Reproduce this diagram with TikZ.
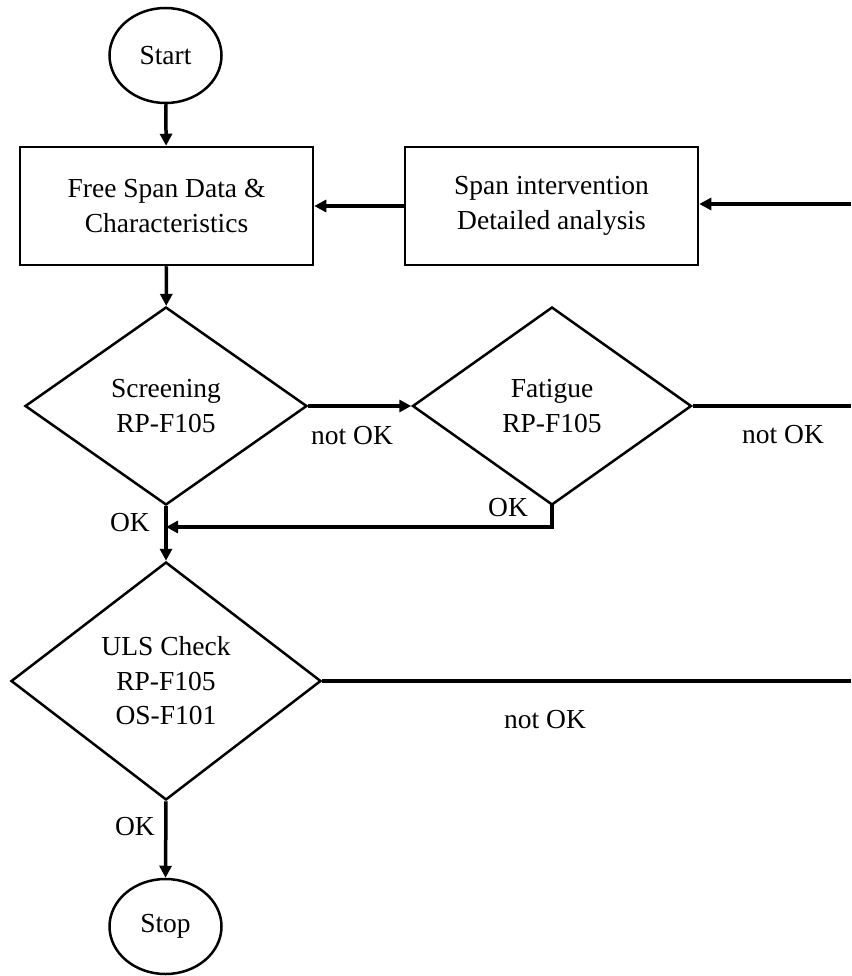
\documentclass[tikz,border=0pt]{standalone}
\usepackage{fontspec}
\setmainfont{Liberation Serif}
\usetikzlibrary{shapes.geometric,arrows.meta}
\begin{document}
\begin{tikzpicture}[x=1pt,y=-1pt,
  font=\fontsize{27.5}{34.5}\selectfont,
  term/.style={ellipse,draw,line width=2.5pt,minimum width=112pt,minimum height=95pt,inner sep=0pt},
  procbox/.style={rectangle,draw,line width=2.5pt,minimum width=293pt,minimum height=118pt,align=center,inner sep=0pt},
  decision/.style={diamond,draw,line width=2.5pt,align=center,inner sep=0pt},
  conn/.style={line width=3.5pt},
  arr/.style={conn,-{Triangle[length=12pt,width=12pt]}},
  lbl/.style={inner sep=0pt}]
\useasboundingbox (0,0) rectangle (851,976);
\node[term] (start) at (165.5,55.5) {Start};
\node[procbox] (data) at (166.5,206) {Free Span Data \&\\Characteristics};
\node[procbox] (interv) at (551.5,206) {Span intervention\\Detailed analysis};
\node[decision,minimum width=282pt,minimum height=198pt] (screen) at (166,406) {Screening\\RP-F105};
\node[decision,minimum width=279pt,minimum height=198pt] (fatigue) at (552,406) {Fatigue\\RP-F105};
\node[decision,minimum width=310pt,minimum height=238pt] (uls) at (166,681) {ULS Check\\RP-F105\\OS-F101};
\node[term] (stop) at (165.5,926.5) {Stop};
\coordinate (e1) at (851,204);
\coordinate (e2) at (851,406);
\coordinate (e3) at (851,681);
\coordinate (okjoin) at (166,527);
\coordinate (fbend) at (552,527);
\draw[arr] (start) -- (data);
\draw[arr] (interv) -- (data);
\draw[arr] (e1) -- (interv.east |- e1);
\draw[arr] (data) -- (screen);
\draw[arr] (screen.east) -- (fatigue.west);
\draw[conn] (fatigue.east) -- (e2);
\draw[arr,line cap=rect] (fatigue.south) -- (fbend) -- (okjoin);
\draw[arr] (screen.south) -- (uls.north);
\draw[conn] (uls.east) -- (e3);
\draw[arr] (uls.south) -- (stop.north);
\node[lbl] (l1) at (352,436) {not OK};
\node[lbl] (l2) at (783,435) {not OK};
\node[lbl] (l3) at (545,720) {not OK};
\node[lbl] (l4) at (130,523) {OK};
\node[lbl] (l5) at (508,508) {OK};
\node[lbl] (l6) at (135,827) {OK};
\end{tikzpicture}
\end{document}
